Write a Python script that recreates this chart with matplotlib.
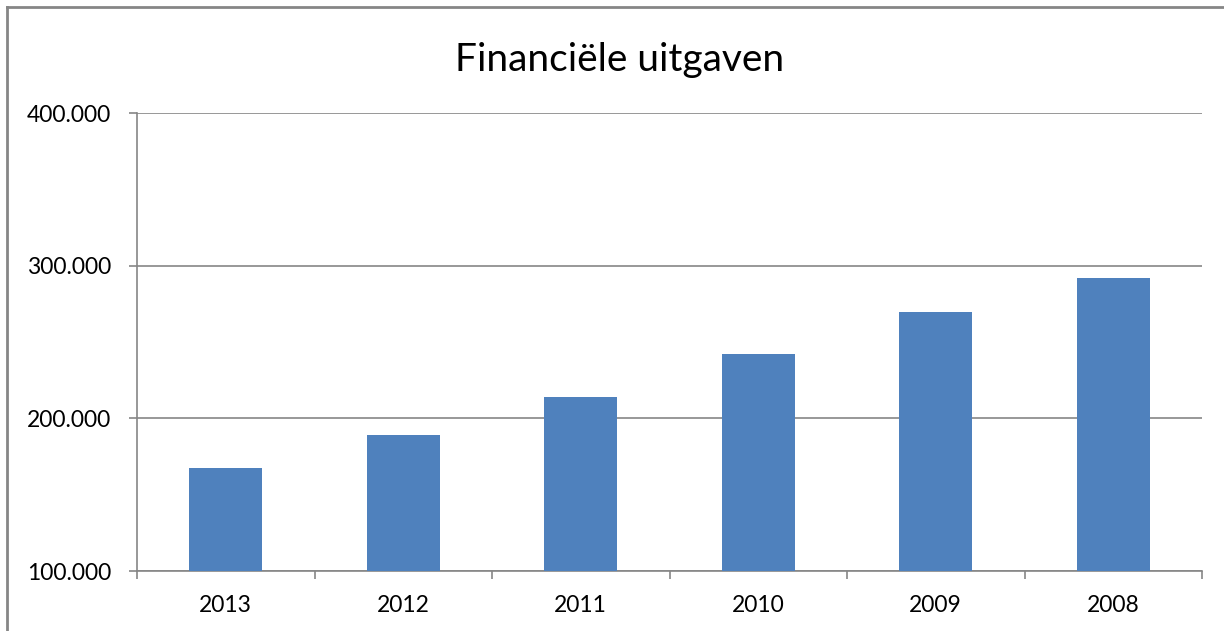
import matplotlib.pyplot as plt
from matplotlib.lines import Line2D
from matplotlib.ticker import FuncFormatter, FixedLocator

jaren = ["2013", "2012", "2011", "2010", "2009", "2008"]
uitgaven = [167500, 189000, 214000, 242000, 269500, 292000]
y_ticks = [100000, 200000, 300000, 400000]

plt.rcParams['font.family'] = ['Lato', 'DejaVu Sans']

fig = plt.figure(figsize=(12.24, 6.31), dpi=100)
ax = fig.add_axes([137 / 1224, 1 - 571 / 631, (1202 - 137) / 1224, (571 - 113) / 631])

posities = range(len(jaren))
ax.bar(posities, uitgaven, width=0.41, color="#4F81BD", zorder=3)

ax.set_xlim(-0.5, len(jaren) - 0.5)
ax.set_ylim(100000, 400000)
ax.set_yticks(y_ticks)
ax.yaxis.set_major_formatter(FuncFormatter(lambda v, p: f"{int(v):,}".replace(",", ".")))
ax.grid(axis="y", color="#868686", linewidth=1.2, zorder=0)

# categorie-labels in het midden, tickstreepjes op de grenzen
ax.set_xticks(list(posities))
ax.set_xticklabels(jaren)
ax.tick_params(axis="x", which="major", length=0, pad=17, labelsize=16.5)
ax.xaxis.set_minor_locator(FixedLocator([i - 0.5 for i in range(len(jaren) + 1)]))
ax.tick_params(axis="x", which="minor", length=6, width=1.2, color="#868686", direction="out")
ax.tick_params(axis="y", length=6, width=1.2, color="#868686", labelsize=16.5, pad=12.5)

for kant in ["top", "right"]:
    ax.spines[kant].set_visible(False)
for kant in ["left", "bottom"]:
    ax.spines[kant].set_color("#868686")
    ax.spines[kant].set_linewidth(1.2)

fig.text(620 / 1224, 1 - 60 / 631, "Financiële uitgaven", ha="center", va="center", fontsize=28)

# rand om de grafiek
fig.add_artist(Line2D([7 / 1224, 7 / 1224], [0, 1 - 7 / 631], color="#868686", linewidth=2, transform=fig.transFigure))
fig.add_artist(Line2D([7 / 1224, 1], [1 - 7 / 631, 1 - 7 / 631], color="#868686", linewidth=2, transform=fig.transFigure))

plt.savefig("out.png", dpi=100)
